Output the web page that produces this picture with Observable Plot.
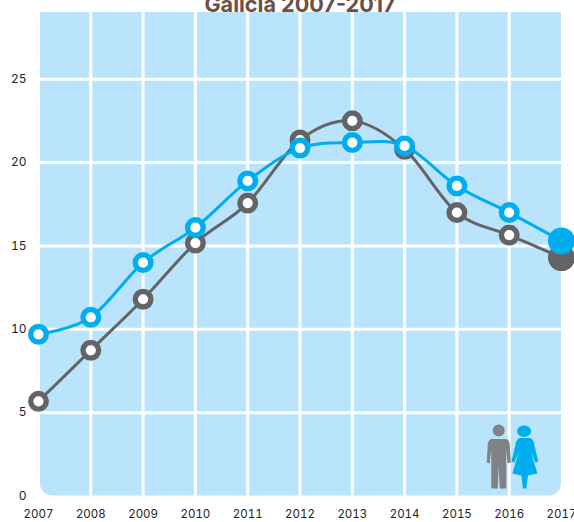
<!DOCTYPE html>
<html>
<head>
<meta charset="utf-8">
<script src="https://cdn.jsdelivr.net/npm/d3@7"></script>
<script src="https://cdn.jsdelivr.net/npm/@observablehq/plot@0.6"></script>
<style>
html,body{margin:0;padding:0;background:#fff;overflow:hidden}
svg{display:block}
</style>
</head>
<body>
<div id="chart"></div>
<script>
const years = [2007,2008,2009,2010,2011,2012,2013,2014,2015,2016,2017];
const blueValues = [9.7,10.72,14,16.1,18.9,20.87,21.2,21,18.6,17,15.3];
const grayValues = [5.68,8.74,11.8,15.17,17.57,21.35,22.5,20.8,17,15.65,14.3];
const yTicks = [0,5,10,15,20,25];
const innerYears = years.slice(1,-1);
const innerY = yTicks.slice(1);
const titleText = "Galicia 2007-2017";

const BLUE="#00aeef", GRAY="#636466", BG="#b9e4fb", TITLE="#6b5043";
const fontFamily = "Inter, 'Open Sans', sans-serif";

const blue = years.map((x,i)=>({x,y:blueValues[i]}));
const gray = years.map((x,i)=>({x,y:grayValues[i]}));

const manSymbol = {draw(c){
  c.moveTo(6,-27); c.arc(0,-27,6,0,Math.PI*2); c.closePath();
  c.moveTo(-7,-18.5); c.lineTo(7,-18.5); c.quadraticCurveTo(10.5,-18,11,-13);
  c.lineTo(12,5); c.lineTo(9,6); c.lineTo(7.5,-8); c.lineTo(7.5,31); c.lineTo(1,31);
  c.lineTo(0,9); c.lineTo(-1,31); c.lineTo(-7.5,31); c.lineTo(-7.5,-8); c.lineTo(-9,6);
  c.lineTo(-12,5); c.lineTo(-11,-13); c.quadraticCurveTo(-10.5,-18,-7,-18.5); c.closePath();
}};
const womanSymbol = {draw(c){
  c.moveTo(6.2,-26.3);
  c.bezierCurveTo(6.2,-29.6,3,-32,-0.8,-32);
  c.bezierCurveTo(-4.6,-32,-7.8,-29.6,-7.8,-26.3);
  c.bezierCurveTo(-7.8,-23,-4.6,-20.6,-0.8,-20.6);
  c.bezierCurveTo(3,-20.6,6.2,-23,6.2,-26.3); c.closePath();
  c.moveTo(-5,-19.5); c.lineTo(5,-19.5); c.quadraticCurveTo(9,-18.5,9.5,-12);
  c.lineTo(13.5,4); c.lineTo(10.5,5); c.lineTo(6,-6); c.lineTo(12.5,16); c.lineTo(3,18);
  c.lineTo(1.5,31); c.lineTo(-2,31); c.lineTo(-3.5,18); c.lineTo(-12.5,16); c.lineTo(-6,-6);
  c.lineTo(-10.5,5); c.lineTo(-13.5,4); c.lineTo(-9.5,-12); c.quadraticCurveTo(-9,-18.5,-5,-19.5); c.closePath();
}};

const curve = "cardinal";
const tension = 0;
const plot = Plot.plot({
  width:574, height:522,
  marginLeft:38, marginRight:13, marginTop:12, marginBottom:26.5,
  style:{fontFamily, background:"#fff", overflow:"hidden"},
  x:{domain:[2007,2017]},
  y:{domain:[0,29]},
  marks:[
    Plot.rect([{}],{x1:()=>2007,x2:()=>2017,y1:()=>0,y2:()=>29,fill:BG,insetLeft:2,rx1y1:12,rx2y1:12}),
    Plot.ruleX(innerYears,{stroke:"#fff",strokeWidth:3}),
    Plot.ruleY(innerY,{stroke:"#fff",strokeWidth:3}),
    Plot.axisX({ticks:years,tickSize:0,tickPadding:14,tickFormat:d=>String(d),label:null,fontSize:11.5,fill:"#222",stroke:"none",marginBottom:26.5}),
    Plot.axisY({ticks:yTicks,tickSize:0,tickPadding:12,label:null,fontSize:12,fill:"#222",stroke:"none"}),
    Plot.dot([{x:2015.8,y:2.31}],{x:"x",y:"y",symbol:manSymbol,fill:"#808285",stroke:"none"}),
    Plot.dot([{x:2016.3,y:2.31}],{x:"x",y:"y",symbol:womanSymbol,fill:BLUE,stroke:"none"}),
    Plot.line(gray,{x:"x",y:"y",curve,tension,stroke:GRAY,strokeWidth:3}),
    Plot.dot(gray.slice(0,-1),{x:"x",y:"y",r:7.8,fill:"#fff",stroke:GRAY,strokeWidth:5.4}),
    Plot.dot(gray.slice(-1),{x:"x",y:"y",r:13.5,fill:GRAY,stroke:"none"}),
    Plot.line(blue,{x:"x",y:"y",curve,tension,stroke:BLUE,strokeWidth:3}),
    Plot.dot(blue.slice(0,-1),{x:"x",y:"y",r:7.8,fill:"#fff",stroke:BLUE,strokeWidth:5.4}),
    Plot.dot(blue.slice(-1),{x:"x",y:"y",r:13.5,fill:BLUE,stroke:"none"}),
    Plot.text([titleText],{x:()=>2012,y:()=>29,text:d=>d,lineAnchor:"bottom",dy:-1,fontSize:21.6,fontWeight:700,fill:TITLE})
  ]
});
document.getElementById("chart").append(plot);
</script>
</body>
</html>
